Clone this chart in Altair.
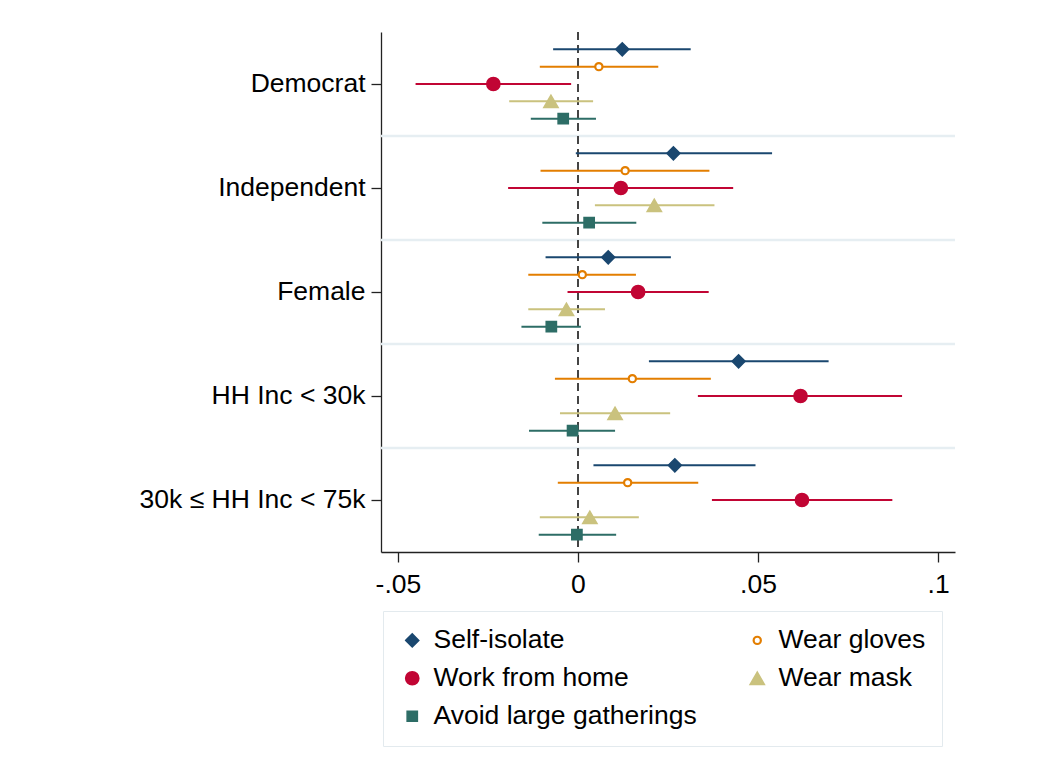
import altair as alt
import pandas as pd

groups = ["Democrat", "Independent", "Female", "HH Inc < 30k", "30k \u2264 HH Inc < 75k"]
series = ["Self-isolate", "Wear gloves", "Work from home", "Wear mask", "Avoid large gatherings"]

si_est = [0.0123, 0.0265, 0.0084, 0.0446, 0.0269]
si_lo = [-0.0069, -0.0006, -0.0090, 0.0197, 0.0043]
si_hi = [0.0313, 0.0539, 0.0258, 0.0696, 0.0493]

gl_est = [0.0058, 0.0131, 0.0012, 0.0151, 0.0138]
gl_lo = [-0.0106, -0.0104, -0.0138, -0.0064, -0.0056]
gl_hi = [0.0223, 0.0365, 0.0161, 0.0369, 0.0334]

wfh_est = [-0.0235, 0.0119, 0.0167, 0.0618, 0.0622]
wfh_lo = [-0.0451, -0.0194, -0.0029, 0.0333, 0.0372]
wfh_hi = [-0.0019, 0.0431, 0.0363, 0.0900, 0.0873]

mk_est = [-0.0075, 0.0212, -0.0032, 0.0103, 0.0033]
mk_lo = [-0.0191, 0.0047, -0.0138, -0.0050, -0.0106]
mk_hi = [0.0042, 0.0379, 0.0075, 0.0256, 0.0169]

av_est = [-0.0041, 0.0031, -0.0074, -0.0015, -0.0003]
av_lo = [-0.0131, -0.0099, -0.0157, -0.0136, -0.0109]
av_hi = [0.0050, 0.0162, 0.0008, 0.0103, 0.0106]

tick_values = [-0.05, 0, 0.05, 0.1]
tick_labels = ["-.05", "0", ".05", ".1"]

colors = ["#1a476f", "#e37e00", "#c10534", "#cac27e", "#2d6d66"]
fills = ["#1a476f", "#ffffff", "#c10534", "#cac27e", "#2d6d66"]
shapes = ["diamond", "circle", "circle", "triangle-up", "square"]
sizes = [170, 52, 175, 205, 105]
stroke_widths = [1.5, 2.2, 1.5, 1.5, 1.5]

est = [si_est, gl_est, wfh_est, mk_est, av_est]
lo = [si_lo, gl_lo, wfh_lo, mk_lo, av_lo]
hi = [si_hi, gl_hi, wfh_hi, mk_hi, av_hi]

rows = []
for s, e_list, l_list, h_list in zip(series, est, lo, hi):
    for g, e, l, h in zip(groups, e_list, l_list, h_list):
        rows.append({"group": g, "series": s, "est": e, "lo": l, "hi": h})
df = pd.DataFrame(rows)
sep_df = pd.DataFrame({"group": groups[1:]})

label_expr = ""
for v, t in zip(tick_values, tick_labels):
    label_expr += f"abs(datum.value - ({v})) < 1e-9 ? '{t}' : "
label_expr += "''"

FONT = "Liberation Sans"
FS = 26.5
W, H = 574, 520

x_scale = alt.Scale(domain=[-0.0547, 0.1047], nice=False, zero=False)
y_scale = alt.Scale(domain=groups, paddingInner=0, paddingOuter=0)
yoff_scale = alt.Scale(domain=series, paddingInner=0, paddingOuter=0.5)

x_axis = alt.Axis(values=tick_values, labelExpr=label_expr, title=None, grid=False,
                  tickSize=10, labelPadding=9, labelFontSize=FS, labelFont=FONT,
                  labelColor="#000", domainColor="#222", tickColor="#222",
                  domainWidth=1.3, tickWidth=1.3)
y_axis = alt.Axis(title=None, grid=False, tickSize=10, labelPadding=6, labelFontSize=FS,
                  labelFont=FONT, labelColor="#000", domainColor="#222", tickColor="#222",
                  domainWidth=1.3, tickWidth=1.3, labelLimit=400)

seps = alt.Chart(sep_df).mark_rule(color="#e6eef2", strokeWidth=2.5).encode(
    y=alt.Y("group:N", scale=y_scale, axis=y_axis, bandPosition=0, sort=groups)
)

zero_line = alt.Chart(sep_df).mark_rule(color="#444", strokeWidth=1.4, strokeDash=[8, 5]).encode(
    x=alt.datum(0, scale=x_scale, axis=x_axis)
)

legend = alt.Legend(
    title=None, orient="none", legendX=2, legendY=579, columns=2, direction="horizontal",
    labelFont=FONT, labelFontSize=FS, labelColor="#000", labelLimit=400,
    columnPadding=47, rowPadding=11, labelOffset=8, padding=16,
    strokeColor="#e3eaee", fillColor="#ffffff", symbolStrokeWidth=1.5,
)

color_enc = alt.Color("series:N", scale=alt.Scale(domain=series, range=colors),
                      sort=series, legend=legend)

bars = alt.Chart(df).mark_rule(strokeWidth=2).encode(
    x=alt.X("lo:Q", scale=x_scale, axis=x_axis),
    x2="hi:Q",
    y=alt.Y("group:N", scale=y_scale, axis=y_axis, sort=groups),
    yOffset=alt.YOffset("series:N", scale=yoff_scale, sort=series),
    color=color_enc,
)

points = alt.Chart(df).mark_point(opacity=1, fillOpacity=1, filled=False).encode(
    x=alt.X("est:Q", scale=x_scale, axis=x_axis),
    y=alt.Y("group:N", scale=y_scale, axis=y_axis, sort=groups),
    yOffset=alt.YOffset("series:N", scale=yoff_scale, sort=series),
    color=color_enc,
    fill=alt.Fill("series:N", scale=alt.Scale(domain=series, range=fills), sort=series, legend=legend),
    shape=alt.Shape("series:N", scale=alt.Scale(domain=series, range=shapes), sort=series, legend=legend),
    size=alt.Size("series:N", scale=alt.Scale(type="ordinal", domain=series, range=sizes),
                  sort=series, legend=legend),
    strokeWidth=alt.StrokeWidth("series:N",
                                scale=alt.Scale(type="ordinal", domain=series, range=stroke_widths),
                                sort=series, legend=None),
)

chart = alt.layer(seps, zero_line, bars, points).properties(
    width=W, height=H,
    autosize=alt.AutoSizeParams(type="none"),
    padding={"left": 373, "top": 24, "right": 60, "bottom": 200},
).configure_view(stroke=None)

chart.save("out.html", embed_options={"renderer": "svg", "actions": False})
